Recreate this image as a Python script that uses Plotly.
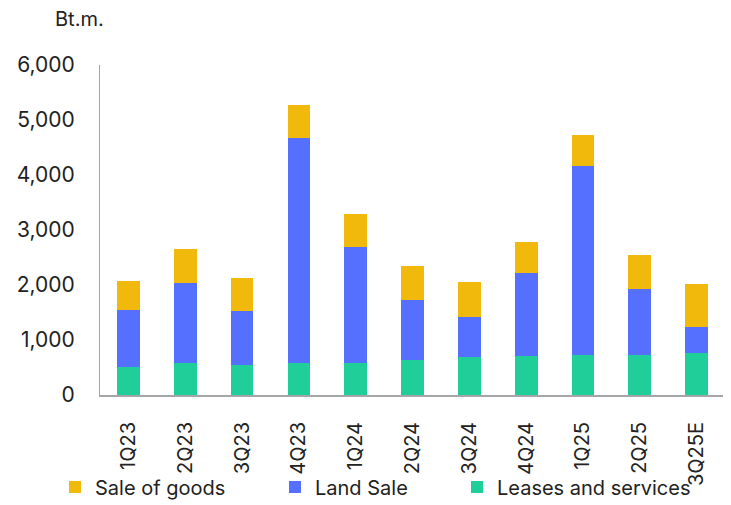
import plotly.graph_objects as go

# quarterly revenue breakdown, Bt.m.
quarters = ["1Q23", "2Q23", "3Q23", "4Q23", "1Q24", "2Q24", "3Q24", "4Q24", "1Q25", "2Q25", "3Q25E"]
leases = [510, 580, 545, 580, 580, 635, 690, 715, 720, 720, 755]
land_sale = [1030, 1450, 990, 4100, 2115, 1100, 737, 1505, 3438, 1215, 490]
goods = [525, 630, 586, 587, 598, 603, 622, 569, 575, 609, 767]

fig = go.Figure()
fig.add_trace(go.Bar(x=quarters, y=leases, name="Leases and services",
                     marker_color="#20CE99", legend="legend3"))
fig.add_trace(go.Bar(x=quarters, y=land_sale, name="Land Sale",
                     marker_color="#5570FF", legend="legend2"))
fig.add_trace(go.Bar(x=quarters, y=goods, name="Sale of goods",
                     marker_color="#F1B90C", legend="legend"))

fig.update_traces(marker_line_width=0)

FONT = "Inter"
legend_font = dict(family=FONT, size=20, color="#222222")


def leg(xpix):
    return dict(orientation="h", xref="container", yref="container",
                x=xpix / 731, xanchor="left", y=26 / 505, yanchor="middle",
                font=legend_font, itemwidth=30, bgcolor="rgba(0,0,0,0)")


fig.update_layout(
    barmode="stack",
    bargap=0.6,
    width=731,
    height=505,
    margin=dict(l=92, r=14, t=57, b=118, autoexpand=False),
    plot_bgcolor="white",
    paper_bgcolor="white",
    font=dict(family=FONT, size=20, color="#222222"),
    showlegend=True,
    legend=leg(47),
    legend2=leg(267),
    legend3=leg(449),
    annotations=[dict(text="Bt.m.", xref="paper", yref="paper", x=(53 - 100) / 625, y=1 + 46 / 330,
                      xanchor="left", yanchor="middle", showarrow=False,
                      font=dict(family=FONT, size=20, color="#222222"))],
)
fig.update_xaxes(
    tickangle=-90,
    tickfont=dict(family=FONT, size=20),
    showline=True, linecolor="#A6A6A6", linewidth=2,
    ticks="", automargin=False, ticklabelstandoff=17,
)
fig.update_yaxes(
    range=[0, 6000],
    tickvals=[0, 1000, 2000, 3000, 4000, 5000, 6000],
    tickformat=",",
    showgrid=False,
    zeroline=False,
    showline=True, linecolor="#A6A6A6", linewidth=1,
    ticks="", automargin=False, ticklabelstandoff=20,
    tickfont=dict(family=FONT, size=21),
)

fig.write_html("out.html")
